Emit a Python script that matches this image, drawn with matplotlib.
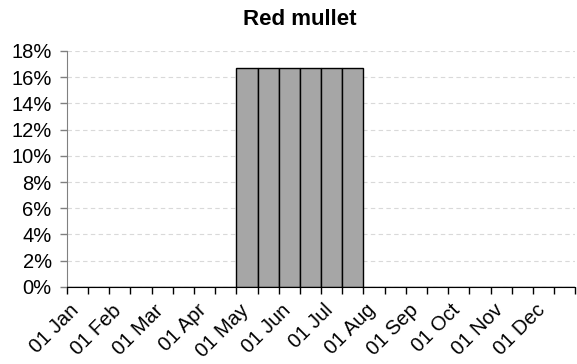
import numpy as np
import matplotlib.pyplot as plt
from matplotlib.ticker import PercentFormatter

plt.rcParams['font.family'] = ['Liberation Sans', 'DejaVu Sans']

# half-month bins, Jan (first half) .. Dec (second half)
month_labels = ['01 Jan', '01 Feb', '01 Mar', '01 Apr', '01 May', '01 Jun',
                '01 Jul', '01 Aug', '01 Sep', '01 Oct', '01 Nov', '01 Dec']
share = [0, 0, 0, 0, 0, 0, 0, 0,
         16.67, 16.67, 16.67, 16.67, 16.67, 16.67,
         0, 0, 0, 0, 0, 0, 0, 0, 0, 0]
title = 'Red mullet'

fig = plt.figure(figsize=(5.77, 3.64), dpi=100)
ax = fig.add_axes([0.116, 0.212, 0.881, 0.648])

x = np.arange(len(share))
ax.bar(x, share, width=1.0, align='edge', color='#a6a6a6',
       edgecolor='black', linewidth=1.0, zorder=3)

ax.set_xlim(0, len(share))
ax.set_ylim(0, 18)
ax.set_yticks(np.arange(0, 19, 2))
ax.yaxis.set_major_formatter(PercentFormatter(decimals=0))
ax.grid(axis='y', color='#d9d9d9', linestyle=(0, (4, 3)), linewidth=0.8, zorder=0)

ax.set_xticks(np.arange(0, len(share) + 1), minor=True)
ax.set_xticks(np.arange(0, len(share), 2) + 0.75)
ax.set_xticklabels(month_labels, rotation=45, ha='right', rotation_mode='default')
ax.tick_params(axis='x', which='major', length=0, labelsize=14.5, pad=10)
ax.tick_params(axis='x', which='minor', length=5, width=1, color='black', direction='out')
ax.tick_params(axis='y', length=5, width=1, color='#808080', labelsize=14.5, pad=6)

for s in ['top', 'right']:
    ax.spines[s].set_visible(False)
ax.spines['left'].set_color('#808080')
ax.spines['bottom'].set_color('black')
ax.spines['bottom'].set_zorder(4)

fig.text(0.52, 0.93, title, fontsize=16, fontweight='bold', ha='center', va='baseline')

fig.savefig('out.png', dpi=100)
